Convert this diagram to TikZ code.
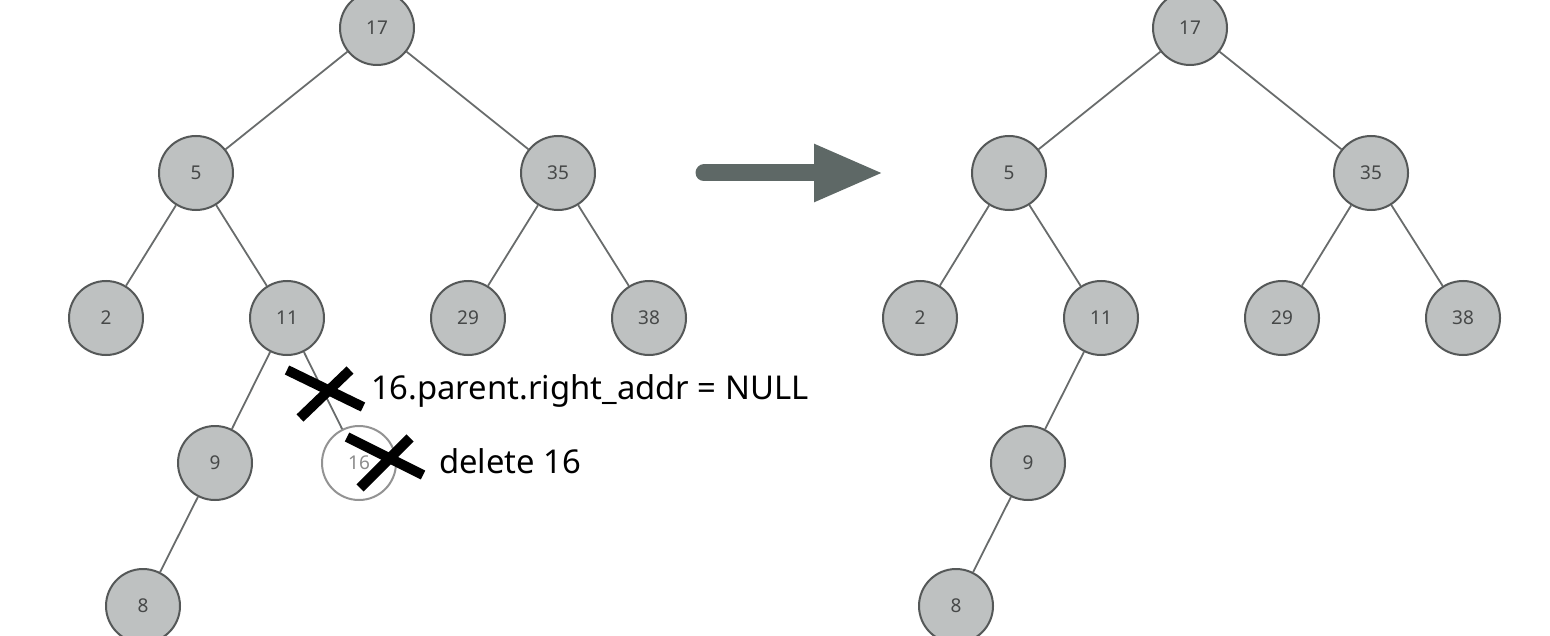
\documentclass[tikz,border=0pt]{standalone}
\usepackage{fontspec}
\setmainfont{Noto Sans}
\usepackage{tikz}
\usetikzlibrary{
    arrows.meta,
    positioning,
    calc
}
\definecolor{nodegray}{RGB}{190,193,193}
\definecolor{bordergray}{RGB}{85,88,88}
\definecolor{edgegray}{RGB}{105,108,108}
\definecolor{labelgray}{RGB}{70,72,72}
\definecolor{arrowgray}{RGB}{94,104,102}

\begin{document}
\begin{tikzpicture}[
    x=0.5pt, y=-0.5pt,
    every node/.style={font=\fontsize{9.5}{11}\selectfont},
    treenode/.style={circle, draw=bordergray, line width=1pt, fill=nodegray,
      minimum size=37pt, inner sep=0pt, text=labelgray},
    delnode/.style={treenode, draw=gray!85, fill=white, text=gray!90},
    edge/.style={draw=edgegray, line width=0.9pt},
    bigarrow/.style={arrowgray, line width=8.5pt, line cap=round,
      -{Triangle[length=35pt, width=26.5pt]}},
    cross/.style={line width=5pt},
    note/.style={anchor=west, font=\fontsize{16.4}{19}\selectfont}
]
\useasboundingbox (0,0) rectangle (1550,636);

% tree before deletion
\node[treenode] (a17) at (377,28) {17};
\node[treenode] (a5) at (196,173) {5};
\node[treenode] (a35) at (558,173) {35};
\node[treenode] (a2) at (106,318) {2};
\node[treenode] (a11) at (287,318) {11};
\node[treenode] (a29) at (468,318) {29};
\node[treenode] (a38) at (649,318) {38};
\node[treenode] (a9) at (215,463) {9};
\node[delnode] (a16) at (359,463) {16};
\node[treenode] (a8) at (143,606) {8};

\draw[edge] (a17) -- (a5);
\draw[edge] (a17) -- (a35);
\draw[edge] (a5) -- (a2);
\draw[edge] (a5) -- (a11);
\draw[edge] (a35) -- (a29);
\draw[edge] (a35) -- (a38);
\draw[edge] (a11) -- (a9);
\draw[edge] (a11) -- (a16);
\draw[edge] (a9) -- (a8);

% crossed out link and node
\coordinate (cutlink) at (325,389);
\coordinate (cutnode) at (385,457);
\draw[cross] ($(cutlink)+(-38,-19)$) -- ($(cutlink)+(38,18)$);
\draw[cross] ($(cutlink)+(25,-19)$) -- ($(cutlink)+(-25,29)$);
\draw[cross] ($(cutnode)+(-38,-20)$) -- ($(cutnode)+(38,18)$);
\draw[cross] ($(cutnode)+(25,-19)$) -- ($(cutnode)+(-25,31)$);
\node[note] (linknote) at (364,391) {16.parent.right\_addr = NULL};
\node[note] (delnote) at (432,461) {delete 16};

% transition
\coordinate (arrowstart) at (704,173);
\coordinate (arrowend) at (884,173);
\draw[bigarrow] (arrowstart) -- (arrowend);

% tree after deletion
\node[treenode] (b17) at (1190,28) {17};
\node[treenode] (b5) at (1009,173) {5};
\node[treenode] (b35) at (1371,173) {35};
\node[treenode] (b2) at (920,318) {2};
\node[treenode] (b11) at (1101,318) {11};
\node[treenode] (b29) at (1282,318) {29};
\node[treenode] (b38) at (1463,318) {38};
\node[treenode] (b9) at (1028,463) {9};
\node[treenode] (b8) at (956,606) {8};

\draw[edge] (b17) -- (b5);
\draw[edge] (b17) -- (b35);
\draw[edge] (b5) -- (b2);
\draw[edge] (b5) -- (b11);
\draw[edge] (b35) -- (b29);
\draw[edge] (b35) -- (b38);
\draw[edge] (b11) -- (b9);
\draw[edge] (b9) -- (b8);
\end{tikzpicture}
\end{document}
